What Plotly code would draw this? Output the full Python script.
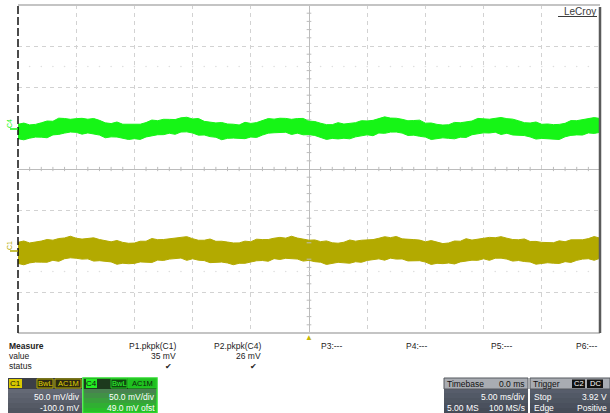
import plotly.graph_objects as go

# ---------------- data ----------------
# time axis: 5 ms/div, 10 div, trigger at centre, samples every 0.5 ms
t_ms = [-25 + 0.5 * i for i in range(101)]

# C4 (green) envelope, mV relative to channel ground
c4_upper_mV = [5.5, 7.0, 4.8, 5.4, 7.3, 9.5, 9.2, 13.0, 12.6, 11.6, 12.4, 12.8, 11.7, 12.6, 10.3, 7.3, 6.4, 8.3,
               5.6, 5.7, 4.9, 5.6, 7.6, 10.7, 9.9, 11.6, 11.5, 11.3, 13.4, 14.1, 12.0, 12.6, 9.1, 7.7, 7.2, 7.7,
               5.9, 5.6, 4.7, 7.9, 6.6, 7.6, 10.2, 12.5, 11.8, 12.9, 12.7, 11.6, 12.5, 12.7, 9.4, 8.9, 6.8, 5.1,
               5.1, 7.5, 5.8, 6.9, 7.5, 9.9, 9.6, 10.3, 12.3, 14.6, 13.1, 12.9, 11.6, 9.8, 10.1, 10.6, 6.9, 7.1,
               5.4, 4.6, 5.0, 7.8, 7.4, 8.9, 9.5, 12.7, 12.2, 11.7, 12.8, 13.8, 12.4, 11.8, 9.8, 7.5, 7.1, 8.3,
               5.5, 5.9, 5.1, 5.4, 6.7, 10.0, 9.9, 11.2, 11.9, 13.7, 12.6]
c4_lower_mV = [-12.1, -13.4, -11.4, -10.1, -10.2, -10.9, -7.4, -6.8, -5.2, -3.9, -4.3, -6.5, -5.0, -6.6, -7.6,
               -10.9, -9.8, -10.0, -11.5, -13.0, -12.0, -12.9, -9.9, -8.2, -7.2, -7.1, -5.4, -6.7, -3.9, -3.7,
               -5.1, -7.7, -7.5, -9.5, -10.3, -13.3, -11.6, -11.3, -11.9, -12.0, -10.0, -10.5, -7.6, -5.3, -4.8,
               -4.9, -4.2, -6.9, -5.3, -7.3, -7.1, -8.1, -10.2, -12.9, -11.7, -12.3, -11.5, -12.2, -9.8, -8.3,
               -7.3, -8.4, -5.1, -5.5, -4.0, -3.9, -5.2, -8.1, -7.7, -9.1, -10.1, -13.0, -11.9, -11.0, -11.6,
               -12.2, -10.2, -10.5, -7.2, -5.7, -4.9, -5.1, -4.1, -6.9, -5.4, -7.5, -7.5, -8.2, -9.9, -12.5,
               -11.7, -12.1, -11.8, -13.0, -9.7, -8.0, -7.4, -7.6, -5.0, -5.6, -4.3]
# C1 (yellow) envelope, mV relative to channel ground
c1_upper_mV = [10.6, 12.2, 9.8, 10.5, 12.1, 14.0, 13.2, 15.2, 15.9, 18.0, 15.6, 14.5, 15.1, 16.1, 14.0, 12.9,
               11.2, 12.8, 10.5, 9.4, 9.7, 11.9, 11.9, 15.2, 13.8, 14.0, 14.9, 16.6, 16.6, 17.5, 15.0, 13.1,
               13.1, 14.6, 11.8, 11.9, 10.9, 9.8, 9.9, 12.0, 11.3, 14.4, 13.9, 14.0, 15.6, 16.6, 15.7, 18.0,
               15.8, 14.2, 13.2, 13.5, 11.4, 12.3, 10.0, 9.5, 10.7, 13.4, 12.0, 13.1, 13.4, 13.9, 15.5, 17.4,
               16.3, 17.7, 14.8, 13.9, 13.9, 13.3, 11.2, 12.7, 10.4, 9.0, 9.8, 12.2, 11.9, 15.0, 13.3, 14.2,
               15.4, 16.6, 16.2, 17.5, 15.6, 14.0, 13.7, 14.7, 11.6, 11.7, 10.5, 9.9, 10.1, 12.4, 11.3, 13.6,
               13.8, 13.7, 15.1, 17.6, 15.7]
c1_lower_mV = [-15.2, -16.8, -14.5, -13.5, -13.6, -13.7, -11.3, -12.6, -9.4, -8.3, -8.8, -9.9, -9.6, -12.3,
               -11.8, -12.2, -13.3, -16.2, -14.9, -15.5, -15.1, -13.3, -13.2, -14.0, -11.1, -11.5, -9.9, -8.8,
               -8.6, -11.4, -9.5, -11.2, -11.7, -14.2, -13.8, -13.5, -14.6, -16.7, -15.0, -15.0, -13.4, -11.9,
               -11.6, -12.5, -9.3, -10.3, -8.9, -9.1, -9.8, -12.3, -11.4, -13.0, -13.7, -16.4, -14.7, -13.8,
               -14.4, -14.9, -13.1, -13.8, -11.5, -10.1, -9.6, -11.2, -8.7, -9.9, -9.7, -12.1, -11.9, -11.8,
               -13.5, -16.4, -15.0, -15.4, -14.6, -15.8, -13.3, -11.9, -11.2, -11.4, -9.5, -11.4, -8.8, -8.7,
               -9.9, -12.3, -11.6, -12.8, -13.4, -16.1, -14.8, -14.3, -14.9, -15.2, -13.0, -13.9, -11.4, -9.9,
               -9.4, -11.3, -8.9]

c4_offset_mV = 49.0
c1_offset_mV = -100.0

meas_names = ["P1.pkpk(C1)", "P2.pkpk(C4)"]
meas_values = ["35 mV", "26 mV"]
empty_params = ["P3:---", "P4:---", "P5:---", "P6:---"]

GREEN = "#16f516"
YELLOW = "#b3aa00"
FONT = "Liberation Sans, Arial, sans-serif"

W, H = 610, 413
L, R, T, B = 18, 600, 5, 333


def X(px):
    return (px - L) / (R - L)


def Y(py):
    return (B - py) / (B - T)


fig = go.Figure()

# faint dotted sub-grid at +/-2.5 div
dot_t = [v for v in t_ms if float(v).is_integer()]
for lvl in (125, -125):
    fig.add_trace(go.Scatter(x=dot_t, y=[lvl] * len(dot_t), mode="markers",
                             marker=dict(size=1.6, color="#dedede"), hoverinfo="skip", showlegend=False))

for up, lo, off, col in ((c4_upper_mV, c4_lower_mV, c4_offset_mV, GREEN),
                         (c1_upper_mV, c1_lower_mV, c1_offset_mV, YELLOW)):
    fig.add_trace(go.Scatter(x=t_ms, y=[v + off for v in up], mode="lines",
                             line=dict(color=col, width=1), hoverinfo="skip", showlegend=False))
    fig.add_trace(go.Scatter(x=t_ms, y=[v + off for v in lo], mode="lines", fill="tonexty",
                             fillcolor=col, line=dict(color=col, width=1), hoverinfo="skip", showlegend=False))

axis_common = dict(showticklabels=False, ticks="", showgrid=True, gridcolor="#d2d2d2", griddash="4px,4px",
                   gridwidth=1, zeroline=True, zerolinecolor="#bcbcbc", zerolinewidth=1, showline=False,
                   fixedrange=True)
fig.update_xaxes(range=[-25, 25], dtick=5, tick0=-25, **axis_common)
fig.update_yaxes(range=[-200, 200], dtick=50, tick0=-200, **axis_common)

shapes = []
# minor ticks on centre axes
for tm in range(-25, 26):
    if tm % 5:
        shapes.append(dict(type="line", xref="x", yref="y", x0=tm, x1=tm, y0=-2.6, y1=2.6,
                           line=dict(color="#bcbcbc", width=1)))
for mv in range(-200, 201, 10):
    if mv % 50:
        shapes.append(dict(type="line", xref="x", yref="y", x0=-0.2, x1=0.2, y0=mv, y1=mv,
                           line=dict(color="#bcbcbc", width=1)))
# borders
shapes += [
    dict(type="line", xref="paper", yref="paper", x0=0, x1=1, y0=1, y1=1, line=dict(color="#c4c4c4", width=2)),
    dict(type="line", xref="paper", yref="paper", x0=0, x1=1, y0=0, y1=0, line=dict(color="#c4c4c4", width=2)),
    dict(type="line", xref="paper", yref="paper", x0=0, x1=0, y0=0, y1=1,
         line=dict(color="#111111", width=1.5, dash="8px,3px")),
    dict(type="line", xref="paper", yref="paper", x0=1, x1=1, y0=0, y1=Y(7),
         line=dict(color="#5a5a5a", width=2.5)),
]


def rect(x0, y0, x1, y1, fill, line=None, lw=1):
    shapes.append(dict(type="rect", xref="paper", yref="paper", x0=X(x0), x1=X(x1), y0=Y(y1), y1=Y(y0),
                       fillcolor=fill, line=dict(color=line or fill, width=lw if line else 0), layer="above"))


def txt(s, x, y, size=8.5, color="#222222", anchor="left", angle=0):
    fig.add_annotation(text=s, xref="paper", yref="paper", x=X(x), y=Y(y), xanchor=anchor, yanchor="middle",
                       showarrow=False, font=dict(family=FONT, size=size, color=color), borderpad=0,
                       textangle=angle)


def gradient(x0, y0, x1, y1, c_top, c_bot, n=7):
    h = (y1 - y0) / n
    for i in range(n):
        f = i / (n - 1)
        c = tuple(int(round(c_top[k] + (c_bot[k] - c_top[k]) * f)) for k in range(3))
        rect(x0, y0 + i * h, x1, y0 + (i + 1) * h + 0.3, "rgb(%d,%d,%d)" % c)


# LeCroy logo
txt("LeCroy", 597, 11, size=10, color="#3a3a3a", anchor="right")
shapes.append(dict(type="line", xref="paper", yref="paper", x0=X(558), x1=X(597), y0=Y(16.5), y1=Y(16.5),
                   line=dict(color="#3a3a3a", width=1)))

# channel markers on left
txt("C4", 9, 124, size=7, color=GREEN, anchor="center", angle=-90)
shapes.append(dict(type="line", xref="paper", yref="paper", x0=X(10), x1=X(18), y0=Y(129), y1=Y(129),
                   line=dict(color=GREEN, width=1.5)))
txt("C1", 9, 246, size=7, color=YELLOW, anchor="center", angle=-90)
shapes.append(dict(type="line", xref="paper", yref="paper", x0=X(10), x1=X(18), y0=Y(251), y1=Y(251),
                   line=dict(color=YELLOW, width=1.5)))

# trigger marker
txt("▲", 309, 338, size=8, color="#c8b800", anchor="center")

# measurement table
txt("<b>Measure</b>", 8, 346)
txt("value", 8, 356)
txt("status", 8, 366)
for name, val, xr in zip(meas_names, meas_values, (177, 262)):
    txt(name, xr, 346, anchor="right")
    txt(val, xr, 356, anchor="right")
    txt("✔", xr - 4, 366, size=8, anchor="right")
for name, xl in zip(empty_params, (320, 405, 490, 575)):
    txt(name, xl, 346)

# C1 descriptor box
gradient(8, 378, 82, 413, (110, 115, 128), (80, 85, 96))
rect(8, 378, 82, 389, "#3c3f47")
rect(9, 379, 22, 388, "#d9c900")
txt("C1", 15.5, 383.5, size=8, color="#111111", anchor="center")
rect(37, 379, 53, 388, "#2c2a12", line="#b3aa00")
txt("BwL", 45, 383.5, size=7.5, color="#e0d200", anchor="center")
rect(55, 379, 81, 388, "#2c2a12", line="#b3aa00")
txt("AC1M", 68, 383.5, size=7.5, color="#e0d200", anchor="center")
txt("50.0 mV/div", 81, 397, color="#ffffff", anchor="right")
txt("-100.0 mV", 81, 407.5, color="#ffffff", anchor="right")

# C4 descriptor box
gradient(83, 378, 157, 413, (90, 100, 100), (40, 190, 40))
rect(83, 378, 157, 389, "#1d3a1d")
rect(86, 379, 97, 388, "#22ee22")
txt("C4", 91.5, 383.5, size=8, color="#111111", anchor="center")
rect(111, 379, 127, 388, "#0f4a0f", line="#22cc22")
txt("BwL", 119, 383.5, size=7.5, color="#33ff33", anchor="center")
rect(128, 379, 156, 388, "#1fbf1f", line="#22cc22")
txt("AC1M", 142, 383.5, size=7.5, color="#0c240c", anchor="center")
shapes.append(dict(type="rect", xref="paper", yref="paper", x0=X(83), x1=X(157), y0=Y(413), y1=Y(378),
                   line=dict(color="#2fe02f", width=1.5), layer="above"))
txt("50.0 mV/div", 156, 397, color="#ffffff", anchor="right")
txt("49.0 mV ofst", 156, 407.5, color="#ffffff", anchor="right")

# Timebase box
gradient(444, 378, 528, 413, (95, 102, 116), (70, 76, 88))
rect(444, 378, 528, 389, "#a9acb2", line="#55595f")
txt("Timebase", 446, 383.5, color="#111111")
txt("0.0 ms", 526, 383.5, color="#111111", anchor="right")
txt("5.00 ms/div", 526, 397, color="#ffffff", anchor="right")
txt("5.00 MS", 446, 407.5, color="#ffffff")
txt("100 MS/s", 526, 407.5, color="#ffffff", anchor="right")

# Trigger box
gradient(530, 378, 610, 413, (95, 102, 116), (70, 76, 88))
rect(530, 378, 610, 389, "#a9acb2", line="#55595f")
txt("Trigger", 532, 383.5, color="#111111")
rect(572, 379.5, 585, 388, "#111111")
txt("C2", 578.5, 383.5, size=7.5, color="#ffffff", anchor="center")
rect(587, 379.5, 603, 388, "#111111")
txt("DC", 595, 383.5, size=7.5, color="#ffffff", anchor="center")
txt("Stop", 533, 397, color="#ffffff")
txt("3.92 V", 608, 397, color="#ffffff", anchor="right")
txt("Edge", 533, 407.5, color="#ffffff")
txt("Positive", 608, 407.5, color="#ffffff", anchor="right")

fig.update_layout(width=W, height=H, margin=dict(l=L, r=W - R, t=T, b=H - B, pad=0),
                  paper_bgcolor="white", plot_bgcolor="white", shapes=shapes, showlegend=False)

fig.write_html("out.html", config={"displayModeBar": False, "staticPlot": True},
               post_script="document.body.style.margin='0';document.body.style.overflow='hidden';")
